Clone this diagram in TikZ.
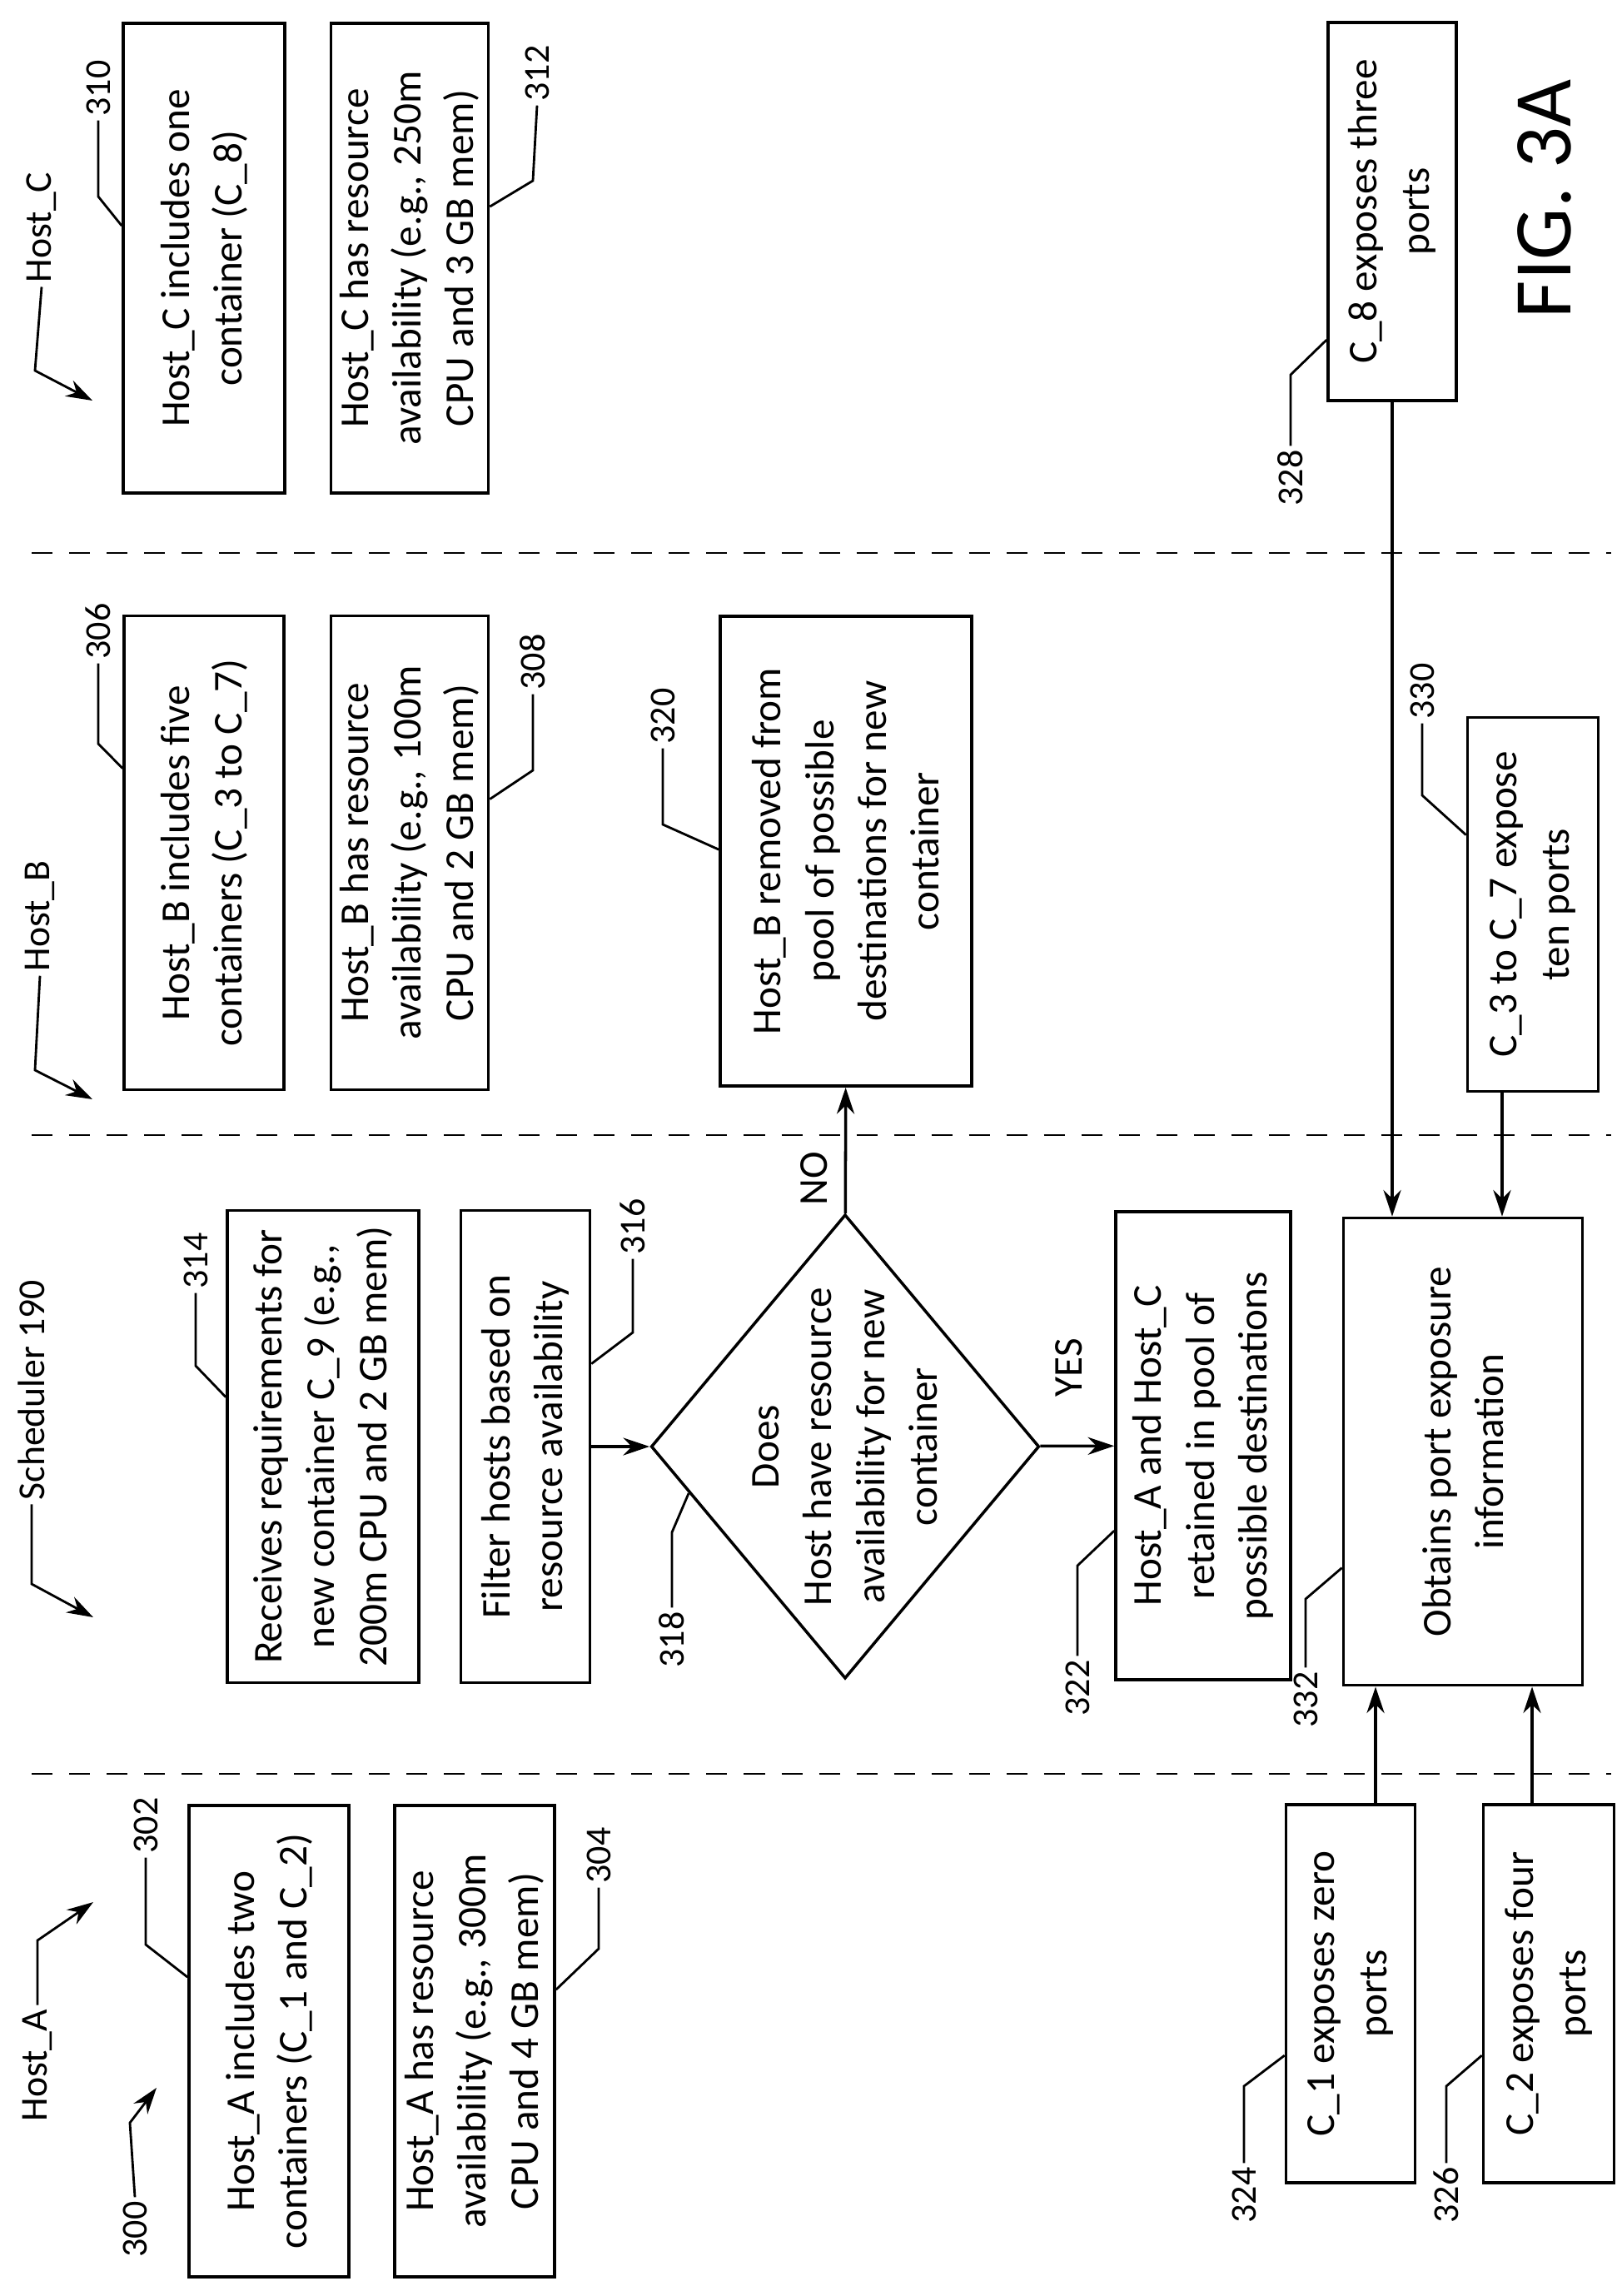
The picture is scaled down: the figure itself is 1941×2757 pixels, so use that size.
\documentclass[tikz,border=0pt]{standalone}
\usepackage{fontspec}
\setmainfont{Carlito}
\usetikzlibrary{shapes.geometric,arrows.meta,calc}
\begin{document}
\begin{tikzpicture}[x=0.01cm,y=-0.01cm,line width=1pt,
  box/.style={draw,rotate=90,align=center,inner sep=0pt,font=\fontsize{14}{18}\selectfont},
  boxA/.style={box,minimum width=5.66cm,minimum height=1.92cm},
  boxS/.style={box,minimum width=5.64cm,minimum height=1.55cm},
  num/.style={rotate=90,inner sep=1pt,font=\fontsize{12.5}{14}\selectfont},
  hst/.style={rotate=90,inner sep=1pt,font=\fontsize{13}{15}\selectfont},
  lead/.style={line width=0.8pt},
  arr/.style={-{Stealth[length=9pt,width=6pt]}},
  lane/.style={dash pattern=on 0.25cm off 0.2cm,line width=0.8pt}]
\useasboundingbox (0,0) rectangle (1941,2757);

% lanes
\draw[lane] (38,664) -- (1935,664);
\draw[lane] (38,1363) -- (1935,1363);
\draw[lane] (38,2130) -- (1935,2130);

% Host_A
\node[boxA] (n302) at (323,2451) {Host\_A includes two\\containers (C\_1 and C\_2)};
\node[boxA] (n304) at (570,2451) {Host\_A has resource\\availability (e.g., 300m\\CPU and 4 GB mem)};
\node[box,minimum width=4.54cm,minimum height=1.55cm] (n324) at (1622,2394) {C\_1 exposes zero\\ports};
\node[box,minimum width=4.54cm,minimum height=1.57cm] (n326) at (1860,2394) {C\_2 exposes four\\ports};

% Scheduler
\node[boxA,minimum width=5.67cm,minimum height=2.30cm] (n314) at (388,1737) {Receives requirements for\\new container C\_9 (e.g.,\\200m CPU and 2 GB mem)};
\node[boxS,minimum width=5.67cm] (n316) at (631,1737) {Filter hosts based on\\resource availability};
\node[draw,diamond,rotate=90,minimum width=5.57cm,minimum height=4.66cm,aspect=1.2,inner sep=0pt] (d318) at (1015,1737) {};
\node[rotate=90,align=center,font=\fontsize{14}{18}\selectfont] (t318) at (d318.center) {Does\\Host have resource\\availability for new\\container};
\node[box,minimum width=5.62cm,minimum height=2.10cm] (n322) at (1445,1736) {Host\_A and Host\_C\\retained in pool of\\possible destinations};
\node[box,minimum width=5.61cm,minimum height=2.87cm] (n332) at (1757,1743) {Obtains port exposure\\information};

% Host_B
\node[boxA,minimum width=5.69cm] (n306) at (245,1024) {Host\_B includes five\\containers (C\_3 to C\_7)};
\node[boxA,minimum width=5.69cm,minimum height=1.89cm] (n308) at (492,1024) {Host\_B has resource\\availability (e.g., 100m\\CPU and 2 GB mem)};
\node[box,minimum width=5.64cm,minimum height=3.02cm] (n320) at (1016,1022) {Host\_B removed from\\pool of possible\\destinations for new\\container};
\node[box,minimum width=4.49cm,minimum height=1.57cm] (n330) at (1841,1086) {C\_3 to C\_7 expose\\ten ports};

% Host_C
\node[boxA,minimum width=5.64cm,minimum height=1.94cm] (n310) at (245,310) {Host\_C includes one\\container (C\_8)};
\node[boxA,minimum width=5.64cm,minimum height=1.89cm] (n312) at (492,310) {Host\_C has resource\\availability (e.g., 250m\\CPU and 3 GB mem)};
\node[box,minimum width=4.54cm,minimum height=1.54cm] (n328) at (1672,254) {C\_8 exposes three\\ports};

% flow
\draw[arr] (n316) -- (d318);
\draw[arr] (d318) -- (n322);
\draw[arr] (d318) -- (n320);
\node[num,font=\fontsize{14}{16}\selectfont] (yes) at (1284,1642) {YES};
\node[num,font=\fontsize{14}{16}\selectfont] (no) at (978,1415) {NO};
\draw[arr] (n328.west) -- (n328.west |- n332.east);
\draw[arr] ([xshift=-0.37cm]n330.west) -- ([xshift=-0.37cm]n330.west |- n332.east);
\draw[arr] ([xshift=0.30cm]n324.east) -- ([xshift=0.30cm]n324.east |- n332.west);
\draw[arr] ([xshift=-0.20cm]n326.east) -- ([xshift=-0.20cm]n326.east |- n332.west);

% lane labels
\node[hst] (hA) at (45,2480) {Host\_A};
\coordinate (tA) at (112,2284);
\draw[lead,arr] (hA.east) -- (45,2330) -- (tA);
\node[num] (l300) at (162,2677) {300};
\coordinate (t300) at (188,2507);
\draw[lead,arr] (l300.east) -- (156,2549) -- (t300);
\node[hst] (hS) at (38,1669) {Scheduler 190};
\coordinate (tS) at (112,1942);
\draw[lead,arr] (hS.west) -- (38,1902) -- (tS);
\node[hst] (hB) at (48,1100) {Host\_B};
\coordinate (tB) at (111,1320);
\draw[lead,arr] (hB.west) -- (42,1285) -- (tB);
\node[hst] (hC) at (50,273) {Host\_C};
\coordinate (tC) at (111,481);
\draw[lead,arr] (hC.west) -- (42,445) -- (tC);

% reference numerals
\node[num] (l302) at (175,2192) {302};
\draw[lead] (l302.west) -- (175,2335) -- ($(n302.north east)+(0,208)$);
\node[num] (l304) at (719,2228) {304};
\draw[lead] (l304.west) -- (719,2340) -- ($(n304.south east)+(0,223)$);
\node[num] (l310) at (118,106) {310};
\draw[lead] (l310.west) -- (118,236) -- ($(n310.north east)+(0,245)$);
\node[num] (l312) at (645,88) {312};
\draw[lead] (l312.west) -- (640,217) -- ($(n312.south east)+(0,222)$);
\node[num] (l306) at (118,758) {306};
\draw[lead] (l306.west) -- (118,893) -- ($(n306.north east)+(0,185)$);
\node[num] (l308) at (640,795) {308};
\draw[lead] (l308.west) -- (640,925) -- ($(n308.south east)+(0,222)$);
\node[num] (l320) at (796,860) {320};
\draw[lead] (l320.west) -- (796,990) -- ($(n320.north east)+(0,282)$);
\node[num] (l314) at (235,1514) {314};
\draw[lead] (l314.west) -- (235,1640) -- ($(n314.north east)+(0,226)$);
\node[num] (l316) at (760,1473) {316};
\draw[lead] (l316.west) -- (760,1600) -- ($(n316.south east)+(0,186)$);
\node[num] (l318) at (807,1969) {318};
\draw[lead] (l318.east) -- (807,1840) -- ($(d318.north)!0.2!(d318.west)$);
\node[num] (l322) at (1294,2027) {322};
\draw[lead] (l322.east) -- (1294,1880) -- ($(n322.north east)+(0,385)$);
\node[num] (l332) at (1568,2041) {332};
\draw[lead] (l332.east) -- (1568,1920) -- ($(n332.north east)+(0,422)$);
\node[num] (l324) at (1494,2636) {324};
\draw[lead] (l324.east) -- (1494,2505) -- ($(n324.north east)+(0,303)$);
\node[num] (l326) at (1737,2636) {326};
\draw[lead] (l326.east) -- (1737,2505) -- ($(n326.north east)+(0,303)$);
\node[num] (l328) at (1550,574) {328};
\draw[lead] (l328.east) -- (1550,450) -- ($(n328.north east)+(0,383)$);
\node[num] (l330) at (1708,830) {330};
\draw[lead] (l330.west) -- (1708,955) -- ($(n330.north east)+(0,143)$);

\node[rotate=90,font=\fontsize{28}{30}\selectfont] (fig) at (1855,239) {FIG. 3A};
\end{tikzpicture}
\end{document}
